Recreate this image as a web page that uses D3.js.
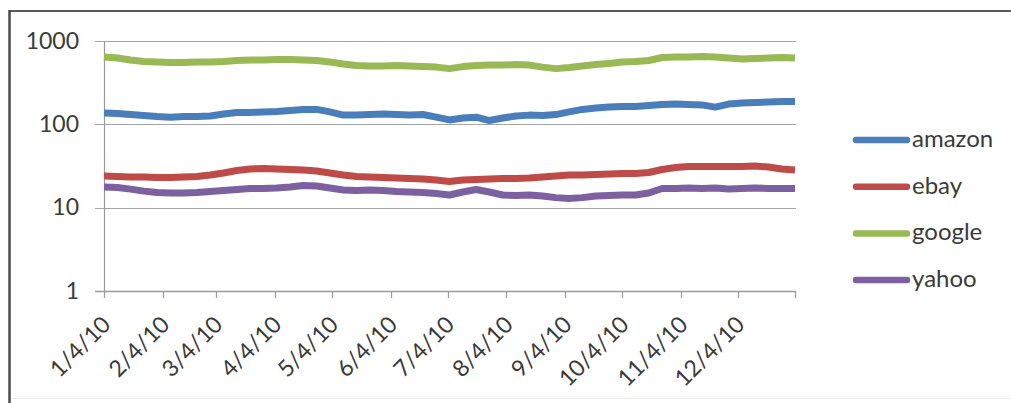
<!DOCTYPE html>
<html>
<head>
<meta charset="utf-8">
<script src="https://cdn.jsdelivr.net/npm/d3@7"></script>
<style>
  html, body { margin: 0; padding: 0; background: #fff; }
  svg { display: block; }
  text { font-family: Lato, "Open Sans", sans-serif; fill: #3a3a3a; }
</style>
</head>
<body>
<svg id="chart" width="1011" height="403"></svg>
<script>
// Weekly observation dates (2010)
const dates = ["2010-01-04","2010-01-11","2010-01-18","2010-01-25","2010-02-01","2010-02-08","2010-02-15","2010-02-22",
"2010-03-01","2010-03-08","2010-03-15","2010-03-22","2010-03-29","2010-04-05","2010-04-12","2010-04-19","2010-04-26",
"2010-05-03","2010-05-10","2010-05-17","2010-05-24","2010-05-31","2010-06-07","2010-06-14","2010-06-21","2010-06-28",
"2010-07-05","2010-07-12","2010-07-19","2010-07-26","2010-08-02","2010-08-09","2010-08-16","2010-08-23","2010-08-30",
"2010-09-06","2010-09-13","2010-09-20","2010-09-27","2010-10-04","2010-10-11","2010-10-18","2010-10-25","2010-11-01",
"2010-11-08","2010-11-15","2010-11-22","2010-11-29","2010-12-06","2010-12-13","2010-12-20","2010-12-27","2011-01-03"];

const seriesNames = ["amazon", "ebay", "google", "yahoo"];

const amazon = [137,135,131,128,124,122,124,124,126,133,139,139,141,143,147,151,151,141,129,129,131,133,131,129,131,122,113,119,122,111,119,126,129,128,131,141,151,157,161,164,164,168,173,175,173,171,161,175,180,183,185,188,188];
const ebay = [24.0,23.7,23.3,23.3,23.0,23.0,23.3,23.7,24.7,26.1,27.9,29.1,29.5,29.1,28.7,28.3,27.5,26.1,24.7,23.7,23.3,23.0,22.7,22.4,22.1,21.5,20.6,21.5,21.8,22.1,22.4,22.4,22.7,23.3,24.0,24.7,24.7,25.0,25.4,25.7,25.7,26.4,28.7,30.3,31.2,31.2,31.2,31.2,31.2,31.6,30.8,29.1,28.3];
const google = [643,625,591,567,559,551,551,559,559,567,583,591,591,600,600,591,583,559,529,507,500,500,507,500,493,486,466,493,507,514,514,521,514,486,466,480,500,521,536,559,567,583,634,643,643,652,643,625,608,617,625,634,625];
const yahoo = [17.7,17.5,16.7,15.8,15.2,15.0,15.0,15.2,15.6,16.1,16.5,17.0,17.0,17.2,17.7,18.5,18.2,17.2,16.3,16.1,16.3,16.1,15.6,15.4,15.2,14.8,14.2,15.4,16.5,15.4,14.2,14.0,14.2,13.8,13.2,12.9,13.2,13.8,14.0,14.2,14.2,15.0,17.0,17.0,17.2,17.0,17.2,16.7,17.0,17.2,17.0,17.0,17.0];

const colors = ["#4A7EBB", "#BE4B48", "#98B954", "#7D60A0"];

const yTicks = [1, 10, 100, 1000];
const xTickDates = ["2010-01-04","2010-02-04","2010-03-04","2010-04-04","2010-05-04","2010-06-04","2010-07-04","2010-08-04","2010-09-04","2010-10-04","2010-11-04","2010-12-04"];
const xTickLabels = ["1/4/10","2/4/10","3/4/10","4/4/10","5/4/10","6/4/10","7/4/10","8/4/10","9/4/10","10/4/10","11/4/10","12/4/10"];

const parse = d3.utcParse("%Y-%m-%d");
const svg = d3.select("#chart");

// outer frame
svg.append("line").attr("x1", 9).attr("x2", 1011).attr("y1", 11).attr("y2", 11)
  .attr("stroke", "#5a5a5a").attr("stroke-width", 2);
svg.append("line").attr("x1", 9.5).attr("x2", 9.5).attr("y1", 10).attr("y2", 403)
  .attr("stroke", "#4a4a4a").attr("stroke-width", 2.5);
svg.append("line").attr("x1", 11).attr("x2", 1011).attr("y1", 398.5).attr("y2", 398.5)
  .attr("stroke", "#ececec").attr("stroke-width", 1);

const plotLeft = 104, plotRight = 795, plotTop = 41, plotBottom = 291;

const x = d3.scaleUtc()
  .domain([parse(dates[0]), parse(dates[dates.length - 1])])
  .range([plotLeft, plotRight]);
const y = d3.scaleLog().domain([1, 1000]).range([plotBottom, plotTop]);

// gridlines
svg.append("g").selectAll("line").data(yTicks.filter(d => d > 1)).join("line")
  .attr("x1", plotLeft - 9).attr("x2", plotRight + 1)
  .attr("y1", d => Math.round(y(d)) + 0.5).attr("y2", d => Math.round(y(d)) + 0.5)
  .attr("stroke", "#a6a6a6").attr("stroke-width", 1.2);

// y axis line
svg.append("line").attr("x1", plotLeft + 0.5).attr("x2", plotLeft + 0.5).attr("y1", plotTop).attr("y2", plotBottom)
  .attr("stroke", "#9a9a9a").attr("stroke-width", 1.2);

// x axis
svg.append("line").attr("x1", plotLeft - 9).attr("x2", plotRight + 1)
  .attr("y1", plotBottom + 0.5).attr("y2", plotBottom + 0.5)
  .attr("stroke", "#9a9a9a").attr("stroke-width", 1.6);

const tickPositions = xTickDates.map(d => x(parse(d))).concat([plotRight]);
svg.append("g").selectAll("line").data(tickPositions).join("line")
  .attr("x1", d => Math.round(d) + 0.5).attr("x2", d => Math.round(d) + 0.5)
  .attr("y1", plotBottom).attr("y2", plotBottom + 7)
  .attr("stroke", "#9a9a9a").attr("stroke-width", 1.2);

// y labels
svg.append("g").selectAll("text").data(yTicks).join("text")
  .attr("x", 79).attr("y", d => y(d) + 7.5)
  .attr("text-anchor", "end")
  .attr("font-size", 23)
  .text(d => d);

// x labels rotated
svg.append("g").selectAll("text").data(xTickDates).join("text")
  .attr("transform", (d) => `translate(${x(parse(d)) + 8},${plotBottom + 35}) rotate(-45)`)
  .attr("text-anchor", "end")
  .attr("font-size", 23)
  .text((d, i) => xTickLabels[i]);

// lines
const seriesData = [amazon, ebay, google, yahoo];
const line = d3.line()
  .x((d, i) => x(parse(dates[i])))
  .y(d => y(d))
  .curve(d3.curveLinear);

svg.append("g").selectAll("path").data(seriesData).join("path")
  .attr("d", d => line(d))
  .attr("fill", "none")
  .attr("stroke", (d, i) => colors[i])
  .attr("stroke-width", 7)
  .attr("stroke-linejoin", "round")
  .attr("stroke-linecap", "butt");

// legend
const legend = svg.append("g").selectAll("g").data(seriesNames).join("g")
  .attr("transform", (d, i) => `translate(0,${140 + i * 46.7})`);
legend.append("line")
  .attr("x1", 856).attr("x2", 907).attr("y1", 0).attr("y2", 0)
  .attr("stroke", (d, i) => colors[i]).attr("stroke-width", 6.5)
  .attr("stroke-linecap", "round");
legend.append("text")
  .attr("x", 912).attr("y", 7)
  .attr("font-size", 24)
  .text(d => d);
</script>
</body>
</html>
